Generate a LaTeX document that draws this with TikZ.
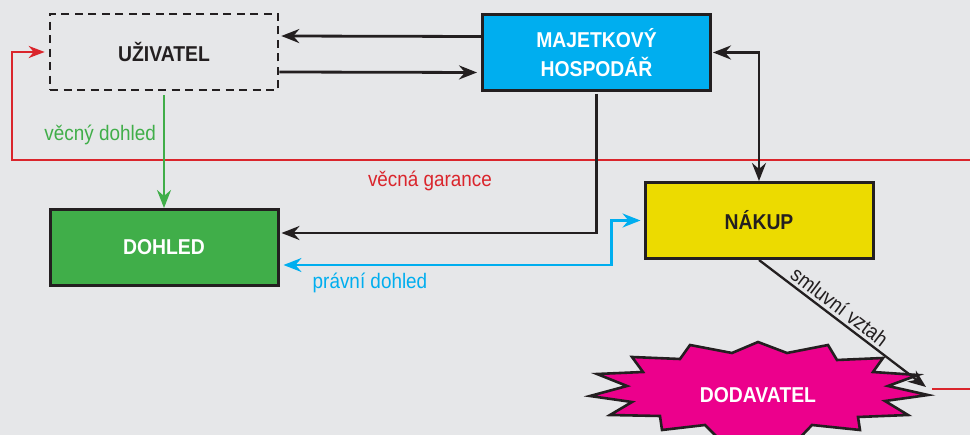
\documentclass[tikz,border=0pt]{standalone}
\usepackage{fontspec}
\setmainfont{Liberation Sans}[FakeStretch=0.9]
\usepackage{tikz}
\usetikzlibrary{arrows.meta,positioning}
\definecolor{orgbg}{RGB}{230,231,233}
\definecolor{orgdark}{RGB}{35,31,32}
\definecolor{orgcyan}{RGB}{0,174,239}
\definecolor{orggreen}{RGB}{64,174,73}
\definecolor{orgyellow}{RGB}{236,219,0}
\definecolor{orgmagenta}{RGB}{236,0,140}
\definecolor{orgred}{RGB}{218,37,44}
\tikzset{
  orgbox/.style ={rectangle, draw=orgdark, line width=3pt, minimum width=228pt,
                  minimum height=76pt, inner sep=2pt, align=center,
                  font=\fontsize{21.5}{29}\selectfont\bfseries},
  orgdash/.style={orgbox, line width=2.6pt, dash pattern=on 8pt off 5.5pt, text=orgdark},
  orgfill/.style={orgbox, fill=#1, text=white},
  orgtip/.tip   ={Stealth[length=18pt, width=14pt, inset=6pt]},
  orgline/.style={line width=2.8pt, orgdark, -orgtip},
  orgboth/.style={orgline, orgtip-orgtip},
  orgredl/.style={line width=2.3pt, orgred},
  orglabel/.style={font=\fontsize{21}{25}\selectfont, inner sep=1pt},
}
\begin{document}
\begin{tikzpicture}[x=1pt, y=-1pt]
  \useasboundingbox (0,0) rectangle (970,435);
  \clip (0,0) rectangle (970,435);
  \fill[orgbg] (0,0) rectangle (970,435);
  % the five parties
  \node[orgdash] (uziv) at (164,52) {UŽIVATEL};
  \node[orgfill=orgcyan] (majet) at (596.5,52.5) {MAJETKOVÝ\\HOSPODÁŘ};
  \node[orgfill=orggreen] (dohled) at (164,247.5) {DOHLED};
  \node[orgfill=orgyellow, text=orgdark] (nakup) at (759,220.5) {NÁKUP};
  % supplier as a burst
  \draw[fill=orgmagenta, draw=orgdark, line width=2.6pt, line join=miter]
    (758,342) -- (787,353) -- (828,345) -- (837,360) -- (883,358) -- (873,372)
    -- (918,375) -- (888,386) -- (928,395) -- (885,401) -- (908,415) -- (858,417)
    -- (860,430) -- (812,425) -- (792,446) -- (759,440) -- (726,446) -- (705,425)
    -- (662,430) -- (660,416) -- (610,415) -- (632,402) -- (590,396) -- (627,386)
    -- (597,374) -- (643,372) -- (632,357) -- (680,359) -- (690,345) -- (732,353)
    -- cycle;
  \node[text=white, font=\fontsize{21.5}{29}\selectfont\bfseries] (dodav) at (758,395) {DODAVATEL};
  \coordinate (redR) at (970,160);
  \coordinate (redE) at (970,389);
  \coordinate (redS) at (932,389);
  \coordinate (smlE) at (926,387);
  % red guarantee line under everything
  \draw[orgredl, -{Stealth[length=16pt, width=12pt, inset=5pt]}, shorten >=4pt]
    (redR) -- (12,160) |- (uziv.west);
  \node[orglabel, text=orgred] (garance) at (430,181) {věcná garance};
  \draw[orgredl] (redS) -- (redE);
  % links
  \draw[orgline, shorten >=2pt] ([yshift=16pt]majet.west) -- ([yshift=16pt]uziv.east);
  \draw[orgline, shorten >=4pt] ([yshift=-20pt]uziv.east) -- ([yshift=-20pt]majet.west);
  \draw[orgboth, shorten <=1pt] (majet.east) -| (nakup.north);
  \draw[orgline, shorten >=2pt, shorten <=2pt] (majet.south) |- ([yshift=14.5pt]dohled.east);
  \draw[orgline, orggreen, line width=2.3pt, shorten <=4pt] (uziv.south) -- (dohled.north)
    node[pos=0.37, left=6pt, orglabel, text=orggreen] {věcný dohled};
  \draw[orgboth, orgcyan, line width=2.3pt, shorten <=4pt, shorten >=3pt]
    ([yshift=-17.5pt]dohled.east) -| ([xshift=-32pt]nakup.west) -- (nakup.west);
  \node[orglabel, text=orgcyan] (pravni) at (370,283) {právní dohled};
  \draw[orgline, line width=2.3pt] (nakup.south) -- (smlE)
    node[pos=0.44, sloped, above=2pt, orglabel] {smluvní vztah};
\end{tikzpicture}
\end{document}
